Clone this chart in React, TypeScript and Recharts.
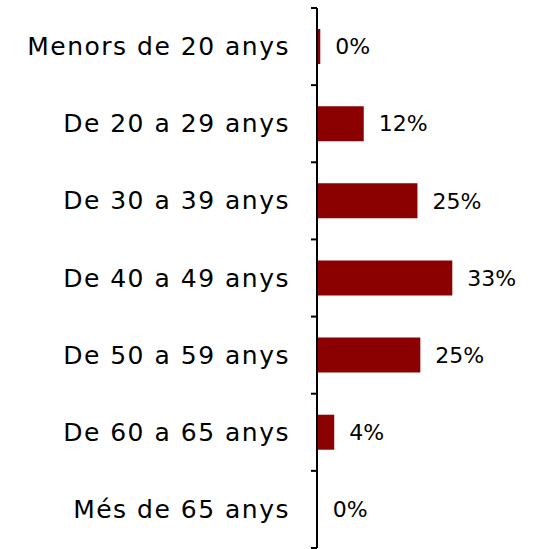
import React from 'react';
import { BarChart, Bar, XAxis, YAxis, LabelList } from 'recharts';

const categories = [
  'Menors de 20 anys',
  'De 20 a 29 anys',
  'De 30 a 39 anys',
  'De 40 a 49 anys',
  'De 50 a 59 anys',
  'De 60 a 65 anys',
  'Més de 65 anys',
];
const values = [0.8, 11.4, 24.5, 33, 25.2, 4.2, 0.2];
const labels = ['0%', '12%', '25%', '33%', '25%', '4%', '0%'];

const data = categories.map((name, i) => ({ name, value: values[i], label: labels[i] }));

const W = 534;
const H = 549;
const TOP = 8;
const BOTTOM = 1;
const BAND = (H - TOP - BOTTOM) / categories.length;
const FONT = '"DejaVu Sans", sans-serif';

function CategoryTick(props: any) {
  const { x, y, payload, index } = props;
  const axisX = x + 6;
  return (
    <g>
      <text
        x={x - 21}
        y={y}
        textAnchor="end"
        dominantBaseline="central"
        fontFamily={FONT}
        fontSize={25}
        letterSpacing={1.5}
        fill="#000"
      >
        {payload.value}
      </text>
      <line x1={axisX - 6} x2={axisX} y1={y - BAND / 2} y2={y - BAND / 2} stroke="#000" strokeWidth={2} />
      {index === categories.length - 1 && (
        <line x1={axisX - 6} x2={axisX} y1={y + BAND / 2} y2={y + BAND / 2} stroke="#000" strokeWidth={2} />
      )}
    </g>
  );
}

export default function App() {
  return (
    <div style={{ position: 'absolute', left: 0, top: 0, width: W, height: H, background: '#fff' }}>
      <BarChart
        width={W}
        height={H}
        data={data}
        layout="vertical"
        margin={{ top: TOP, right: 53, bottom: BOTTOM, left: 0 }}
      >
        <XAxis type="number" domain={[0, 40]} hide />
        <YAxis
          type="category"
          dataKey="name"
          width={317}
          axisLine={{ stroke: '#000', strokeWidth: 2 }}
          tickLine={false}
          tick={<CategoryTick />}
          tickMargin={0}
          interval={0}
        />
        <Bar dataKey="value" fill="#8B0000" barSize={35} isAnimationActive={false}>
          <LabelList
            dataKey="label"
            position="right"
            offset={15}
            fontFamily={FONT}
            fontSize={22}
            fill="#000"
          />
        </Bar>
      </BarChart>
    </div>
  );
}
